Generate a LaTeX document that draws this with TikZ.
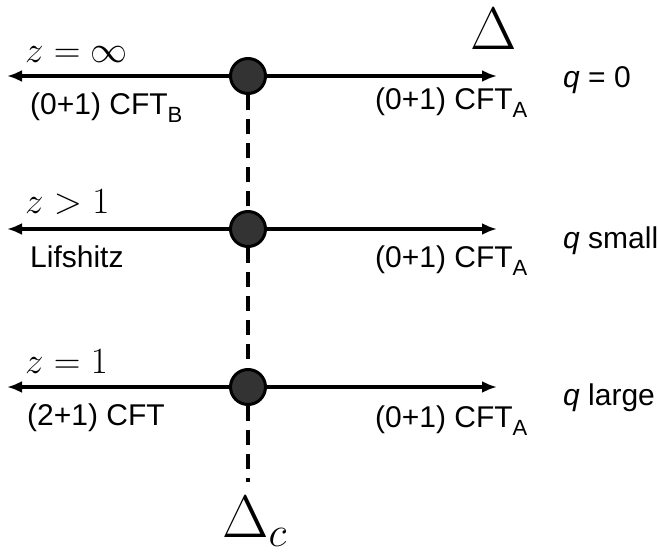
\documentclass[tikz,border=0pt]{standalone}
\usepackage{fix-cm}
\usepackage[no-math]{fontspec}
\newfontfamily\cftfont{Liberation Sans}
\usetikzlibrary{arrows.meta}
\newcommand{\lowsub}[1]{\raisebox{-8pt}{\fontsize{22}{22}\selectfont #1}}

\begin{document}
\begin{tikzpicture}[x=1pt,y=-1pt,
  axis/.style={line width=4.5pt,-{Latex[length=15pt,width=12pt]}},
  critline/.style={line width=4.5pt,dash pattern=on 15pt off 9pt},
  crit/.style={circle,draw=black,line width=3pt,fill=black!80,minimum size=35pt,inner sep=0pt},
  lab/.style={anchor=base west,inner sep=0pt,font=\cftfont\fontsize{30}{32}\selectfont},
  mlab/.style={anchor=base west,inner sep=0pt,font=\fontsize{37}{40}\selectfont},
  big/.style={anchor=base west,inner sep=0pt,font=\fontsize{60}{64}\selectfont}]
\useasboundingbox (0,0) rectangle (658,559);

\foreach \i/\y in {1/76,2/229,3/387}{
  \coordinate (left\i) at (7,\y);
  \coordinate (right\i) at (497,\y);
  \node[crit] (dot\i) at (248,\y) {};
  \draw[axis] (dot\i) -- (left\i);
  \draw[axis] (dot\i) -- (right\i);
}

\coordinate (bottom) at (248,482);
\draw[critline] (dot1) -- (dot2);
\draw[critline] (dot2) -- (dot3);
\draw[critline] (dot3) -- (bottom);

\node[big] (delta) at (470,50) {$\Delta$};
\node[big] (deltac) at (222,537) {$\Delta_c$};

\node[mlab] (zinf) at (25,63) {$z=\infty$};
\node[mlab] (zgt) at (25,213) {$z>1$};
\node[mlab] (zone) at (25,373) {$z=1$};

\node[lab] (cftB) at (30,114) {(0+1) CFT\lowsub{B}};
\node[lab] (lif) at (30,267) {Lifshitz};
\node[lab] (cft3) at (27,425) {(2+1) CFT};

\foreach \i/\y in {1/110,2/267,3/427}
\node[lab] (cftA\i) at (375,\y) {(0+1) CFT\lowsub{A}};

\node[lab] (qzero) at (563,88) {\textit{q} = 0};
\node[lab] (qsmall) at (563,248) {\textit{q} small};
\node[lab] (qlarge) at (563,405) {\textit{q} large};
\end{tikzpicture}
\end{document}
